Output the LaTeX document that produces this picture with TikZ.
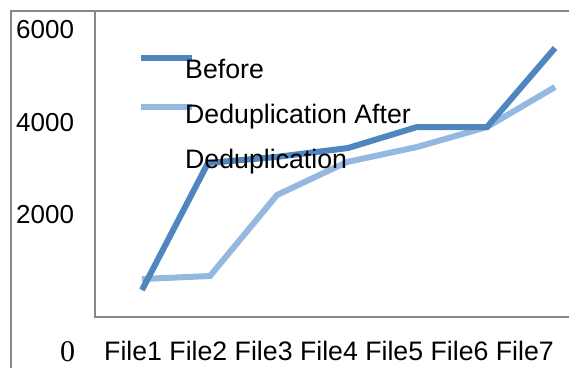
\documentclass[tikz,border=0pt]{standalone}
\usepackage{fontspec}
\setmainfont{Liberation Sans}
\newfontfamily\seriffont{Liberation Serif}
\definecolor{before}{HTML}{4F86BD}
\definecolor{after}{HTML}{95B8E0}
\definecolor{axisgray}{HTML}{878787}
\begin{document}
\begin{tikzpicture}[x=1pt,y=-1pt,
  frame/.style={draw=axisgray,line width=2pt},
  series/.style={line width=6pt,line join=miter},
  lbl/.style={inner sep=0pt,anchor=base west,font=\fontsize{26.7}{30}\selectfont},
  ylbl/.style={inner sep=0pt,anchor=base west,font=\fontsize{26}{30}\selectfont}]
\useasboundingbox (0,0) rectangle (569,368);
% frames
\draw[frame] (11,368) -- (11,11) -- (569,11);
\draw[frame] (95,11) -- (95,317) -- (569,317);
% y labels
\node[ylbl] (y6) at (16,38) {6000};
\node[ylbl] (y4) at (16,131) {4000};
\node[ylbl] (y2) at (16,223) {2000};
\node[inner sep=0pt,anchor=base west,font=\seriffont\fontsize{30}{32}\selectfont] (y0) at (60,361) {0};
% x labels
\node[lbl] (xl) at (104,360) {File1 File2 File3 File4 File5 File6 File7};
% data
\coordinate (b1) at (142,290);
\coordinate (b2) at (208,163);
\coordinate (b3) at (276,157);
\coordinate (b4) at (348,148);
\coordinate (b5) at (417,127);
\coordinate (b6) at (487,127);
\coordinate (b7) at (555,48);
\coordinate (a1) at (142,279);
\coordinate (a2) at (210,276);
\coordinate (a3) at (277,195);
\coordinate (a4) at (347,162);
\coordinate (a5) at (417,147);
\coordinate (a6) at (487,127);
\coordinate (a7) at (555,87);
\draw[series,after] (a1) -- (a2) -- (a3) -- (a4) -- (a5) -- (a6) -- (a7);
\draw[series,before] (b1) -- (b2) -- (b3) -- (b4) -- (b5) -- (b6) -- (b7);
% legend
\coordinate (lb1) at (141,58);
\coordinate (lb2) at (192,58);
\coordinate (la1) at (141,107);
\coordinate (la2) at (192,107);
\draw[series,before] (lb1) -- (lb2);
\draw[series,after] (la1) -- (la2);
\node[lbl] (t1) at (185,78) {Before};
\node[lbl] (t2) at (185,123) {Deduplication After};
\node[lbl] (t3) at (185,168) {Deduplication};
\end{tikzpicture}
\end{document}
